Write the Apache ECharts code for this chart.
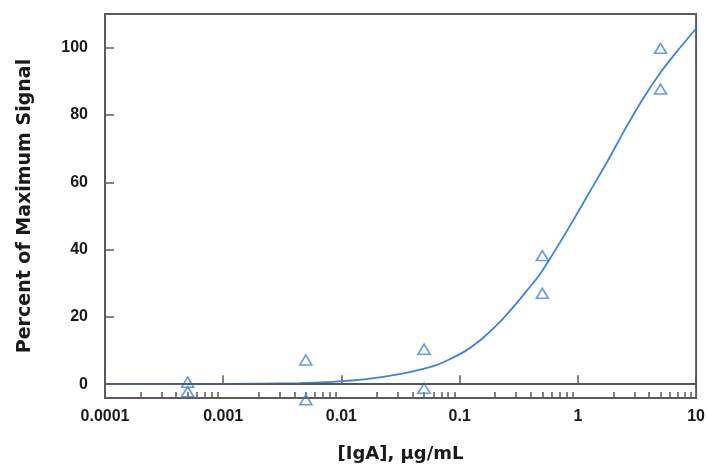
<!DOCTYPE html>
<html>
<head>
<meta charset="UTF-8">
<title>IgA</title>
<script src="https://cdn.jsdelivr.net/npm/echarts@6/dist/echarts.min.js"></script>
<style>
html,body{margin:0;padding:0;background:#fff;}
</style>
</head>
<body>
<div id="main" style="width:708px;height:468px;"></div>
<script type="text/javascript">
// measured points (triangles)
var pointX = [0.0005, 0.0005, 0.005, 0.005, 0.05, 0.05, 0.5, 0.5, 5, 5];
var pointY = [0.6, -2.2, 7.2, -4.6, 10.4, -1.2, 38.2, 27.0, 99.8, 87.7];

// fitted curve
var curveX = [0.0001, 0.001, 0.0044, 0.0084, 0.0161, 0.0309, 0.0589, 0.08, 0.112, 0.151, 0.215, 0.279, 0.37, 0.469, 0.588, 0.787, 1.02, 1.28, 1.83, 2.53, 3.49, 4.83, 6.68, 10];
var curveY = [0, 0.1, 0.3, 0.7, 1.5, 3.0, 5.3, 7.2, 9.9, 13.2, 18.2, 22.6, 27.8, 32.3, 37.6, 44.9, 51.6, 57.6, 67.0, 76.0, 84.4, 91.9, 98.3, 105.7];

var xTicks = [0.0001, 0.001, 0.01, 0.1, 1, 10];
var xTickLabels = ['0.0001', '0.001', '0.01', '0.1', '1', '10'];
var yTicks = [0, 20, 40, 60, 80, 100];

// 2..9 inside each decade
var minorTicks = [];
for (var d = 0; d < xTicks.length - 1; d++) {
	for (var k = 2; k <= 9; k++) {
		minorTicks.push(+(xTicks[d] * k).toPrecision(3));
	}
}

var points = [];
for (var i = 0; i < pointX.length; i++) points.push([pointX[i], pointY[i]]);
var curve = [];
for (var j = 0; j < curveX.length; j++) curve.push([curveX[j], curveY[j]]);

var titleFont = 'DejaVu Sans';
var tickFont = 'Liberation Sans';
var axisColor = '#5a5a5a';
var blue = '#3d84d6';

var myChart = echarts.init(document.getElementById('main'));
var option = {
	animation: false,
	grid: {
		left: 105, right: 11, top: 14, bottom: 69,
		show: true,
		borderColor: axisColor,
		borderWidth: 2
	},
	xAxis: [{
		type: 'log',
		logBase: 10,
		min: 0.0001,
		max: 10,
		name: '[IgA], µg/mL',
		nameLocation: 'middle',
		nameGap: 47,
		nameTextStyle: { fontFamily: titleFont, fontWeight: 'bold', fontSize: 18, color: '#1a1a1a' },
		axisLine: { show: true, lineStyle: { color: axisColor, width: 2 } },
		axisTick: { show: true, inside: true, length: 9, customValues: xTicks, lineStyle: { color: axisColor, width: 1.5 } },
		axisLabel: {
			customValues: xTicks,
			margin: 11,
			fontFamily: tickFont, fontWeight: 'bold', fontSize: 16, color: '#1a1a1a',
			formatter: function (v) { return xTickLabels[Math.round(Math.log10(v)) + 4]; }
		},
		splitLine: { show: false }
	}, {
		type: 'log',
		logBase: 10,
		min: 0.0001,
		max: 10,
		position: 'bottom',
		axisLine: { show: false },
		axisTick: { show: true, inside: true, length: 6, customValues: minorTicks, lineStyle: { color: axisColor, width: 1.5 } },
		axisLabel: { show: false },
		splitLine: { show: false }
	}],
	yAxis: {
		type: 'value',
		min: -4.1,
		max: 110,
		name: 'Percent of Maximum Signal',
		nameLocation: 'middle',
		nameGap: 70,
		nameTextStyle: { fontFamily: titleFont, fontWeight: 'bold', fontSize: 19, color: '#1a1a1a' },
		axisLine: { show: true, lineStyle: { color: axisColor, width: 2 } },
		axisTick: { show: true, inside: true, length: 9, customValues: yTicks, lineStyle: { color: axisColor, width: 1.5 } },
		axisLabel: {
			customValues: yTicks,
			margin: 17,
			fontFamily: tickFont, fontWeight: 'bold', fontSize: 16, color: '#1a1a1a'
		},
		splitLine: { show: false }
	},
	series: [{
		type: 'line',
		data: curve,
		smooth: 0.3,
		showSymbol: false,
		lineStyle: { color: blue, width: 1.8 },
		markLine: {
			silent: true,
			symbol: 'none',
			label: { show: false },
			lineStyle: { color: '#555', width: 1.5, type: 'solid' },
			data: [{ yAxis: 0 }]
		},
		z: 3
	}, {
		type: 'scatter',
		data: points,
		clip: false,
		symbol: 'triangle',
		symbolSize: [12, 10],
		itemStyle: { color: 'rgba(0,0,0,0)', borderColor: blue, borderWidth: 1.6 },
		z: 4
	}]
};
myChart.setOption(option);
</script>
</body>
</html>
